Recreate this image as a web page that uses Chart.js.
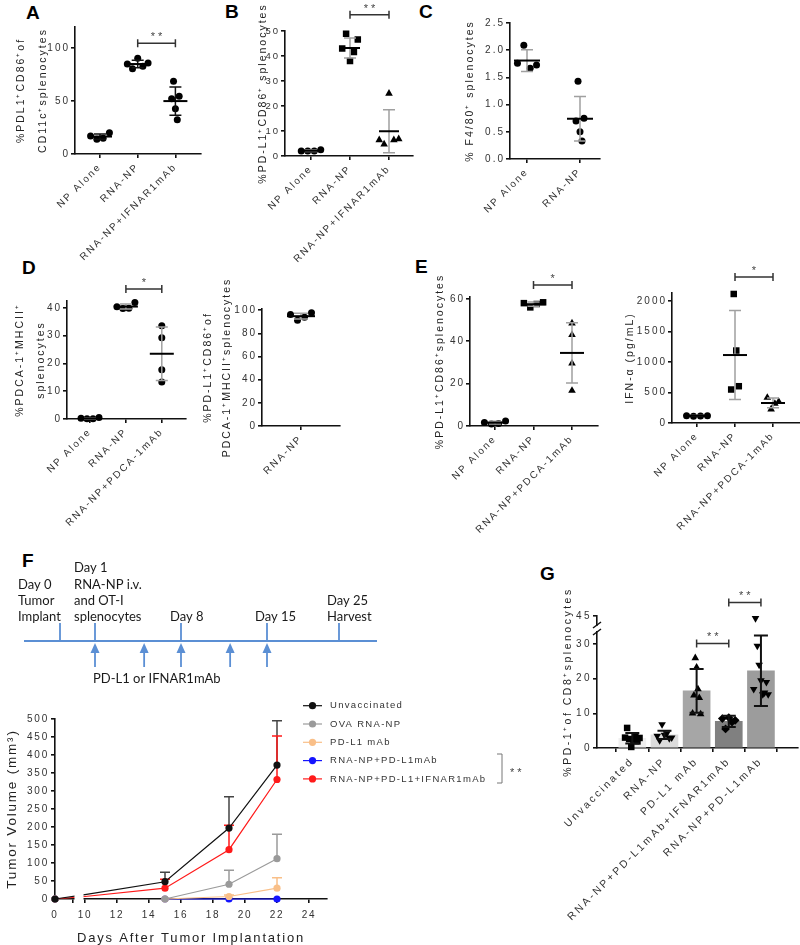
<!DOCTYPE html>
<html>
<head>
<meta charset="utf-8">
<script src="https://cdn.jsdelivr.net/npm/chart.js@4.4.1/dist/chart.umd.min.js"></script>
<style>
  body { margin: 0; background: #fff; }
  #page { position: relative; width: 800px; height: 945px; overflow: hidden; background: #fff; }
  canvas { position: absolute; }
  .tag { position: absolute; font: bold 19px 'Liberation Sans', Arial, sans-serif; line-height: 1; color: #000; }
</style>
</head>
<body>
<div id="page">
  <div class="tag" style="left:26px;top:3px">A</div>
  <div class="tag" style="left:225px;top:2px">B</div>
  <div class="tag" style="left:419px;top:2px">C</div>
  <div class="tag" style="left:22px;top:258px">D</div>
  <div class="tag" style="left:415px;top:257px">E</div>
  <div class="tag" style="left:22px;top:551px">F</div>
  <div class="tag" style="left:540px;top:564px">G</div>
</div>
<script>
// ---- panel A ----
const aCats = ['NP Alone', 'RNA-NP', 'RNA-NP+IFNAR1mAb'];
const aVals = [[17, 14, 15, 20], [85, 80.5, 90.5, 83, 86], [52.3, 68.8, 42.8, 32.4, 54.5]];
const aMean = [16.5, 85, 50];
const aSD = [2.5, 3.5, 13.4];
const aTicks = [0, 50, 100];
const aSig = [[1, 2, 104.7, '**']];

// ---- panel B ----
const bVals = [[2, 2, 2, 2.5], [43, 48.9, 38, 41.6, 46.6], [6.4, 4.7, 25, 6.4, 6.8]];
const bMean = [2.1, 43.2, 9.9];
const bSD = [0.3, 4, 8.6];
const bTicks = [0, 5, 10, 15, 20, 25, 30, 35, 40, 45, 50];
const bSig = [[1, 2, 56.5, '**']];

// ---- panel C ----
const cCats = ['NP Alone', 'RNA-NP'];
const cVals = [[1.76, 2.09, 1.67, 1.73], [0.70, 1.43, 0.50, 0.33, 0.75]];
const cMean = [1.81, 0.74];
const cSD = [0.2, 0.41];
const cTicks = [0, 0.5, 1, 1.5, 2, 2.5];

// ---- panel D ----
const dCats = ['NP Alone', 'RNA-NP', 'RNA-NP+PDCA-1mAb'];
const dVals = [[0.3, 0.1, 0.1, 0.5], [40.4, 39.8, 39.9, 42], [33.6, 29.3, 17.7, 13.3]];
const dMean = [0.25, 40.5, 23.5];
const dSD = [0.2, 0.9, 9.6];
const dTicks = [0, 10, 20, 30, 40];
const dSig = [[1, 2, 46.8, '*']];

const d2Cats = ['RNA-NP'];
const d2Vals = [[96.3, 91.3, 93.9, 97.7]];
const d2Mean = [94.8];
const d2SD = [2.5];
const d2Ticks = [0, 20, 40, 60, 80, 100];

// ---- panel E ----
const eVals = [[1.7, 1.0, 1.2, 2.4], [58, 56, 57.6, 58.4], [48.5, 43, 29.6, 16.7]];
const eMean = [1.6, 57.5, 34.5];
const eSD = [0.6, 1.0, 14.2];
const eTicks = [0, 20, 40, 60];
const eSig = [[1, 2, 66.6, '*']];

const e2Vals = [[120, 110, 115, 120], [549, 2115, 1188, 603], [416, 225, 319, 350]];
const e2Mean = [116, 1114, 328];
const e2SD = [5, 730, 80];
const e2Ticks = [0, 500, 1000, 1500, 2000];
const e2Sig = [[1, 2, 2394, '*']];

// ---- panel F: schedule ----
const tlDays = [0, 1, 8, 15, 25];
const tlText = [['Day 0', 'Tumor', 'Implant'], ['Day 1', 'RNA-NP i.v.', 'and OT-I', 'splenocytes'], ['Day 8'], ['Day 15'], ['Day 25', 'Harvest']];
const tlDoseDays = [1, 5, 8, 12, 15];
const tlDoseText = 'PD-L1 or IFNAR1mAb';

// ---- panel F: tumour growth ----
const fDays = [0, 10, 15, 19, 22];
const fNames = ['Unvaccinated', 'OVA RNA-NP', 'PD-L1 mAb', 'RNA-NP+PD-L1mAb', 'RNA-NP+PD-L1+IFNAR1mAb'];
const fUnvac = [0, 12, 48, 197, 372];
const fUnvacSD = [0, 0, 26, 87, 123];
const fOva = [0, null, 0, 41, 112];
const fOvaSD = [0, 0, 0, 39, 68];
const fPdl1 = [0, null, 0, 7, 30];
const fPdl1SD = [0, 0, 0, 4, 29];
const fCombo = [0, null, 0, 0, 0];
const fComboSD = [0, 0, 0, 0, 0];
const fTriple = [0, 7, 30, 137, 332];
const fTripleSD = [0, 0, 25, 68, 121];
const fXTicks = [0, 1, 10, 12, 14, 16, 18, 20, 22, 24];
const fYTicks = [0, 50, 100, 150, 200, 250, 300, 350, 400, 450, 500];

// ---- panel G ----
const gCats = ['Unvaccinated', 'RNA-NP', 'PD-L1 mAb', 'RNA-NP+PD-L1mAb+IFNAR1mAb', 'RNA-NP+PD-L1mAb'];
const gVals = [
  [3.0, 5.8, 2.6, 0.3, 2.4, 3.2, 1.9, 2.9],
  [3.5, 2.2, 6.8, 3.8, 4.2, 2.8, 3.0],
  [10.0, 15.2, 26, 23.3, 17, 14.5, 9.8],
  [8.5, 5.5, 8.8, 7.5, 8.0],
  [17, 44.5, 29.5, 24, 19.5, 15.5, 16, 19, 15.5]
];
const gMean = [2.8, 3.8, 16.5, 7.7, 22.3];
const gSD = [1.5, 1.2, 6.3, 1.6, 10.2];
const gTicks = [0, 10, 20, 30, 45];
const gSig = [[2, 3, 30.2, '**'], [3, 4, 48, '**']];

// ------------------------------------------------------------
const FONT = "'Liberation Sans', Arial, sans-serif";
Chart.defaults.font.family = FONT;
Chart.defaults.color = '#333';

class BrokenScale extends Chart.LinearScale {
  static id = 'broken';
  static defaults = {};
  toDec(v) {
    const kv = this.options.knotV, kf = this.options.knotF;
    let i = 1;
    while (i < kv.length - 1 && v > kv[i]) i++;
    return kf[i - 1] + (v - kv[i - 1]) * (kf[i] - kf[i - 1]) / (kv[i] - kv[i - 1]);
  }
  getPixelForValue(v) {
    return v === null || isNaN(v) ? NaN : this.getPixelForDecimal(this.toDec(v));
  }
  getValueForPixel(px) {
    const d = this.getDecimalForPixel(px);
    const kv = this.options.knotV, kf = this.options.knotF;
    let i = 1;
    while (i < kf.length - 1 && d > kf[i]) i++;
    return kv[i - 1] + (d - kf[i - 1]) * (kv[i] - kv[i - 1]) / (kf[i] - kf[i - 1]);
  }
}
Chart.register(BrokenScale);

// letter spaced text everywhere, like the original figure
Chart.register({
  id: 'spacing',
  beforeUpdate(c, a, o) { c.ctx.letterSpacing = o.px || '2px'; },
  beforeDraw(c, a, o) { c.ctx.letterSpacing = o.px || '2px'; }
});

// mean line, SD whiskers and significance brackets
Chart.register({
  id: 'stats',
  afterDatasetsDraw(chart, args, o) {
    if (!o.means) return;
    const {ctx} = chart, x = chart.scales.x, y = chart.scales.y;
    ctx.save();
    o.means.forEach((m, i) => {
      const px = x.getPixelForValue(i);
      const yt = y.getPixelForValue(m + o.sds[i]);
      const yb = y.getPixelForValue(Math.max(m - o.sds[i], 0));
      ctx.strokeStyle = o.sdColor;
      ctx.lineWidth = o.sdWidth || 1.5;
      ctx.beginPath();
      ctx.moveTo(px, yt); ctx.lineTo(px, yb);
      ctx.moveTo(px - o.cap, yt); ctx.lineTo(px + o.cap, yt);
      ctx.moveTo(px - o.cap, yb); ctx.lineTo(px + o.cap, yb);
      ctx.stroke();
      if (o.meanHalf) {
        const ym = y.getPixelForValue(m);
        ctx.strokeStyle = '#000';
        ctx.lineWidth = 2;
        ctx.beginPath();
        ctx.moveTo(px - o.meanHalf, ym); ctx.lineTo(px + o.meanHalf, ym);
        ctx.stroke();
      }
    });
    (o.sig || []).forEach(s => {
      const xa = x.getPixelForValue(s[0]), xb = x.getPixelForValue(s[1]), yy = y.getPixelForValue(s[2]);
      ctx.strokeStyle = '#333';
      ctx.lineWidth = 1.5;
      ctx.beginPath();
      ctx.moveTo(xa, yy); ctx.lineTo(xb, yy);
      ctx.moveTo(xa, yy - 4); ctx.lineTo(xa, yy + 4);
      ctx.moveTo(xb, yy - 4); ctx.lineTo(xb, yy + 4);
      ctx.stroke();
      ctx.fillStyle = '#444';
      ctx.font = '11px ' + FONT;
      ctx.letterSpacing = '3px';
      ctx.textAlign = 'center';
      ctx.textBaseline = 'alphabetic';
      ctx.fillText(s[3], (xa + xb) / 2 + 1.5, yy - 3);
    });
    ctx.restore();
  }
});

const MARK = {
  circle: {style: 'circle', rot: 0, r: 3.5},
  square: {style: 'rect', rot: 0, r: 4.6},
  tri: {style: 'triangle', rot: 0, r: 4.4},
  tridown: {style: 'triangle', rot: 180, r: 4.4},
  diamond: {style: 'rectRot', rot: 0, r: 4.4}
};

const page = document.getElementById('page');
function mk(box) {
  const c = document.createElement('canvas');
  c.width = box[2]; c.height = box[3];
  c.style.left = box[0] + 'px'; c.style.top = box[1] + 'px';
  c.style.width = box[2] + 'px'; c.style.height = box[3] + 'px';
  page.appendChild(c);
  return c;
}
function jit(i, n, w) { return n < 2 ? 0 : (i / (n - 1) - 0.5) * w; }

const AX = {
  border: {color: '#111', width: 1.6},
  grid: {drawOnChartArea: false, color: '#111', lineWidth: 1.6, tickLength: 4}
};

function yTitle(p, cx) {
  if (!p.title) return {display: false};
  return {
    display: true, text: p.title, color: '#222',
    font: {size: p.tfs || 10.5, lineHeight: p.tlh + 'px'},
    padding: {top: p.titleX - cx - p.tlh / 2, bottom: 0}
  };
}

function dotChart(box, plot, p) {
  const [cx, cy, cw, ch] = box, [pl, pt, pr, pb] = plot;
  const datasets = p.vals.map((arr, g) => {
    const m = MARK[p.shapes[g]];
    return {
      type: 'scatter', clip: false,
      data: arr.map((v, i) => ({x: g + jit(i, arr.length, p.spread[g]), y: v})),
      pointStyle: m.style, pointRotation: m.rot, pointRadius: m.r,
      backgroundColor: '#000', borderColor: '#000', borderWidth: 0
    };
  });
  if (p.bars) {
    datasets.push({
      type: 'bar', clip: false,
      data: p.means.map((m, i) => ({x: i, y: m})),
      backgroundColor: p.bars, borderWidth: 0, barThickness: p.barWidth
    });
  }
  const yOpts = Object.assign({
    type: 'linear', min: 0, max: p.yMax, bounds: 'data',
    afterBuildTicks: s => { s.ticks = p.ticks.map(v => ({value: v})); },
    afterFit: s => { s.width = pl - cx; s.paddingTop = 0; s.paddingBottom = 0; },
    ticks: {font: {size: p.yfs || 10}, color: '#333', padding: 1, callback: p.fmt || (v => v)},
    title: yTitle(p, cx)
  }, AX, p.yExtra || {});
  return new Chart(mk(box), {
    type: 'scatter',
    data: {datasets},
    options: {
      responsive: false, animation: false, events: [],
      layout: {autoPadding: false, padding: {left: 0, top: pt - cy, right: cx + cw - pr, bottom: 0}},
      plugins: {
        legend: {display: false}, tooltip: {enabled: false},
        spacing: {px: p.ls || '2px'},
        stats: {means: p.means, sds: p.sds, sdColor: p.sdColor, sdWidth: p.sdWidth, cap: p.cap, meanHalf: p.meanHalf, sig: p.sig || []}
      },
      scales: {
        x: Object.assign({
          type: 'linear', bounds: 'data',
          min: (pl - p.first) / p.step, max: (pr - p.first) / p.step,
          afterBuildTicks: s => { s.ticks = p.cats.map((c, i) => ({value: i})); },
          afterFit: s => { s.height = cy + ch - pb; s.paddingLeft = 0; s.paddingRight = 0; },
          ticks: {autoSkip: false, minRotation: 45, maxRotation: 45, font: {size: p.xfs || 10}, color: '#333', padding: 3,
                  callback: v => p.cats[v]}
        }, AX),
        y: yOpts
      }
    },
    plugins: p.extraPlugins || []
  });
}

// A
dotChart([0, 0, 235, 275], [75, 27, 201, 154], {
  cats: aCats, vals: aVals, means: aMean, sds: aSD, shapes: ['circle', 'circle', 'circle'],
  spread: [0.5, 0.55, 0.2], ticks: aTicks, yMax: 120, first: 100, step: 37.7,
  title: ['%PDL1⁺CD86⁺of', 'CD11c⁺splenocytes'], titleX: 21, tlh: 22,
  sig: aSig, sdColor: '#111', cap: 6, meanHalf: 12
});
// B
dotChart([245, 0, 190, 275], [285, 31, 413, 156], {
  cats: aCats, vals: bVals, means: bMean, sds: bSD, shapes: ['circle', 'square', 'tri'],
  spread: [0.5, 0.4, 0.5], ticks: bTicks, yMax: 50, first: 311, step: 39, yfs: 9.5,
  title: '%PD-L1⁺CD86⁺ splenocytes', titleX: 263, tlh: 14,
  sig: bSig, sdColor: '#a0a0a0', cap: 6, meanHalf: 10
});
// C
dotChart([440, 0, 180, 275], [510, 23, 600, 159], {
  cats: cCats, vals: cVals, means: cMean, sds: cSD, shapes: ['circle', 'circle'],
  spread: [0.36, 0.15], ticks: cTicks, yMax: 2.5, first: 527, step: 53,
  fmt: v => v.toFixed(1),
  title: '% F4/80⁺ splenocytes', titleX: 470, tlh: 14,
  sdColor: '#a0a0a0', cap: 6, meanHalf: 13
});
// D
dotChart([0, 270, 200, 290], [67, 301, 186, 419], {
  cats: dCats, vals: dVals, means: dMean, sds: dSD, shapes: ['circle', 'circle', 'circle'],
  spread: [0.5, 0.5, 0], ticks: dTicks, yMax: 42.5, first: 90, step: 35.9,
  title: ['%PDCA-1⁺MHCII⁺', 'splenocytes'], titleX: 20, tlh: 21,
  sig: dSig, sdColor: '#a0a0a0', cap: 6, meanHalf: 12
});
dotChart([195, 270, 160, 230], [262, 309, 340, 426], {
  cats: d2Cats, vals: d2Vals, means: d2Mean, sds: d2SD, shapes: ['circle'],
  spread: [0.42], ticks: d2Ticks, yMax: 101, first: 301, step: 50,
  title: ['%PD-L1⁺CD86⁺of', 'PDCA-1⁺MHCII⁺splenocytes'], titleX: 208, tlh: 19,
  sdColor: '#a0a0a0', cap: 7, meanHalf: 14
});
// E
dotChart([420, 260, 195, 300], [470, 297, 598, 426], {
  cats: dCats, vals: eVals, means: eMean, sds: eSD, shapes: ['circle', 'square', 'tri'],
  spread: [0.55, 0.5, 0], ticks: eTicks, yMax: 60.9, first: 495, step: 38.5,
  title: '%PD-L1⁺CD86⁺splenocytes', titleX: 440, tlh: 14,
  sig: eSig, sdColor: '#a0a0a0', cap: 6, meanHalf: 12
});
dotChart([610, 260, 190, 300], [672, 293, 800, 423], {
  cats: dCats, vals: e2Vals, means: e2Mean, sds: e2SD, shapes: ['circle', 'square', 'tri'],
  spread: [0.55, 0.2, 0.3], ticks: e2Ticks, yMax: 2131, first: 697, step: 38,
  title: 'IFN-α (pg/mL)', titleX: 630, tlh: 14,
  sig: e2Sig, sdColor: '#a0a0a0', cap: 6, meanHalf: 12
});

// G: bars + dots on a broken y axis
const gBreak = {
  id: 'gBreak',
  afterDraw(chart) {
    const {ctx} = chart, y = chart.scales.y, ax = chart.chartArea.left;
    const ya = y.getPixelForValue(33.5), yb = y.getPixelForValue(43);
    ctx.save();
    ctx.fillStyle = '#fff';
    ctx.fillRect(ax - 3, yb + 1, 6, ya - yb - 2);
    ctx.strokeStyle = '#111';
    ctx.lineWidth = 1.5;
    ctx.beginPath();
    [ya, yb].forEach(v => { ctx.moveTo(ax - 4, v + 3); ctx.lineTo(ax + 4, v - 3); });
    ctx.stroke();
    ctx.restore();
  }
};
dotChart([540, 575, 260, 370], [597, 616, 798, 748], {
  cats: gCats, vals: gVals, means: gMean, sds: gSD,
  shapes: ['square', 'tridown', 'tri', 'diamond', 'tridown'],
  spread: [0.45, 0.45, 0.25, 0.4, 0.45], ticks: gTicks, yMax: 45, first: 616, step: 40.2,
  yExtra: {type: 'broken', knotV: [0, 33.5, 43, 45], knotF: [0, 0.8788, 0.9318, 1]},
  bars: ['#f0f0f0', '#dcdcdc', '#a6a6a6', '#808080', '#9c9c9c'], barWidth: 27,
  title: '%PD-1⁺of CD8⁺splenocytes', titleX: 568, tlh: 14, xfs: 10.5, ls: '2.5px',
  sig: gSig, sdColor: '#111', sdWidth: 2, cap: 7, meanHalf: 0,
  extraPlugins: [gBreak]
});

// F: treatment schedule, drawn on a schematic day axis
const TL_BLUE = '#5b8fd4';
const timeline = {
  id: 'timeline',
  afterDraw(chart) {
    const {ctx} = chart, x = chart.scales.x, a = chart.chartArea;
    ctx.save();
    ctx.letterSpacing = '0px';
    ctx.strokeStyle = TL_BLUE; ctx.fillStyle = TL_BLUE; ctx.lineWidth = 1.8;
    ctx.beginPath();
    ctx.moveTo(a.left, 86); ctx.lineTo(a.right, 86);
    tlDays.forEach(d => { const px = x.getPixelForValue(d); ctx.moveTo(px, 68); ctx.lineTo(px, 86); });
    tlDoseDays.forEach(d => { const px = x.getPixelForValue(d); ctx.moveTo(px, 112); ctx.lineTo(px, 96); });
    ctx.stroke();
    tlDoseDays.forEach(d => {
      const px = x.getPixelForValue(d);
      ctx.beginPath();
      ctx.moveTo(px, 88); ctx.lineTo(px - 4.5, 98); ctx.lineTo(px + 4.5, 98); ctx.closePath();
      ctx.fill();
    });
    ctx.fillStyle = '#1a1a1a';
    ctx.font = '13px Lato, sans-serif';
    ctx.textAlign = 'left'; ctx.textBaseline = 'middle';
    const shift = [-42, -21, -11, -12, -12];
    tlText.forEach((lines, k) => {
      const px = x.getPixelForValue(tlDays[k]) + shift[k];
      lines.forEach((t, j) => ctx.fillText(t, px, 62 - (lines.length - 1 - j) * 16.3));
    });
    ctx.fillText(tlDoseText, x.getPixelForValue(tlDoseDays[0]) - 2, 124);
    ctx.restore();
  }
};
new Chart(mk([0, 555, 400, 135]), {
  type: 'scatter',
  data: {datasets: []},
  options: {
    responsive: false, animation: false, events: [],
    layout: {autoPadding: false, padding: {left: 24, right: 23, top: 0, bottom: 0}},
    plugins: {legend: {display: false}, tooltip: {enabled: false}},
    scales: {
      x: {type: 'broken', display: false, min: -3, max: 28,
          knotV: [-3, 0, 1, 8, 15, 25, 28], knotF: [0, 36 / 353, 71 / 353, 157 / 353, 243 / 353, 315 / 353, 1]},
      y: {display: false, min: 0, max: 1}
    }
  },
  plugins: [timeline]
});

// F: tumour volume
const fColors = ['#111111', '#9a9a9a', '#f9bf88', '#1414ff', '#ff1a1a'];
const fSeries = [fUnvac, fOva, fPdl1, fCombo, fTriple];
const fSDs = [fUnvacSD, fOvaSD, fPdl1SD, fComboSD, fTripleSD];
const tumor = {
  id: 'tumor',
  beforeDatasetsDraw(chart) {
    const {ctx} = chart, x = chart.scales.x, y = chart.scales.y;
    ctx.save();
    ctx.lineWidth = 1.5;
    fSeries.forEach((vals, s) => {
      ctx.strokeStyle = s === 0 ? '#444' : fColors[s];
      vals.forEach((v, i) => {
        const sd = fSDs[s][i];
        if (v === null || !sd) return;
        const px = x.getPixelForValue(fDays[i]), y0 = y.getPixelForValue(v), y1 = y.getPixelForValue(v + sd);
        ctx.beginPath();
        ctx.moveTo(px, y0); ctx.lineTo(px, y1);
        ctx.moveTo(px - 5, y1); ctx.lineTo(px + 5, y1);
        ctx.stroke();
      });
    });
    ctx.restore();
  },
  afterDatasetsDraw(chart) {
    const {ctx} = chart, x = chart.scales.x, a = chart.chartArea;
    ctx.save();
    ctx.fillStyle = '#fff';
    const x0 = x.getPixelForValue(1) + 1.5, x1 = x.getPixelForValue(10) - 1.5;
    ctx.fillRect(x0, a.top, x1 - x0, a.bottom - a.top + 6);
    ctx.restore();
  },
  afterDraw(chart) {
    const {ctx} = chart;
    ctx.save();
    ctx.letterSpacing = '1.3px';
    ctx.font = '9.5px ' + FONT;
    ctx.textAlign = 'left'; ctx.textBaseline = 'middle';
    fNames.forEach((n, i) => {
      const yy = 15.7 + i * 18.3;
      ctx.strokeStyle = fColors[i]; ctx.fillStyle = fColors[i]; ctx.lineWidth = 1.2;
      ctx.beginPath(); ctx.moveTo(303, yy); ctx.lineTo(322, yy); ctx.stroke();
      ctx.beginPath(); ctx.arc(312.5, yy, 3.6, 0, Math.PI * 2); ctx.fill();
      ctx.fillStyle = '#333';
      ctx.fillText(n, 330, yy);
    });
    ctx.strokeStyle = '#777'; ctx.lineWidth = 1;
    ctx.beginPath();
    ctx.moveTo(497, 64); ctx.lineTo(502, 64); ctx.lineTo(502, 93); ctx.lineTo(497, 93);
    ctx.stroke();
    ctx.fillStyle = '#444';
    ctx.font = '11px ' + FONT;
    ctx.letterSpacing = '3px';
    ctx.textBaseline = 'alphabetic';
    ctx.fillText('**', 510, 86);
    ctx.restore();
  }
};
new Chart(mk([0, 690, 530, 255]), {
  type: 'line',
  data: {
    datasets: fSeries.map((vals, s) => ({
      label: fNames[s], clip: false,
      data: vals.map((v, i) => ({x: fDays[i], y: v})),
      borderColor: fColors[s], backgroundColor: fColors[s], borderWidth: 1.2,
      pointRadius: [3.6, 0, 3.6, 3.6, 3.6], pointBorderWidth: 0, tension: 0
    }))
  },
  options: {
    responsive: false, animation: false, events: [],
    layout: {autoPadding: false, padding: {left: 0, top: 29, right: 203, bottom: 0}},
    plugins: {legend: {display: false}, tooltip: {enabled: false}, spacing: {px: '1.8px'}},
    scales: {
      x: Object.assign({
        type: 'broken', min: 0, max: 25.125, bounds: 'data',
        knotV: [0, 1, 10, 25.125], knotF: [0, 0.0662, 0.1103, 1],
        afterBuildTicks: s => { s.ticks = fXTicks.map(v => ({value: v})); },
        afterFit: s => { s.height = 46; s.paddingLeft = 0; s.paddingRight = 0; },
        ticks: {autoSkip: false, maxRotation: 0, minRotation: 0, font: {size: 10}, color: '#333', padding: 6,
                callback: v => (v === 1 ? '' : v)},
        title: {display: true, text: 'Days After Tumor Implantation', color: '#222',
                font: {size: 13, lineHeight: '14px'}, padding: {top: 0, bottom: 0}}
      }, AX),
      y: Object.assign({
        type: 'linear', min: 0, max: 500, bounds: 'data',
        afterBuildTicks: s => { s.ticks = fYTicks.map(v => ({value: v})); },
        afterFit: s => { s.width = 55; s.paddingTop = 0; s.paddingBottom = 0; },
        ticks: {font: {size: 10}, color: '#333', padding: 2},
        title: {display: true, text: 'Tumor Volume (mm³)', color: '#222',
                font: {size: 13.5, lineHeight: '14px'}, padding: {top: 5, bottom: 0}}
      }, AX)
    }
  },
  plugins: [tumor]
});
</script>
</body>
</html>
